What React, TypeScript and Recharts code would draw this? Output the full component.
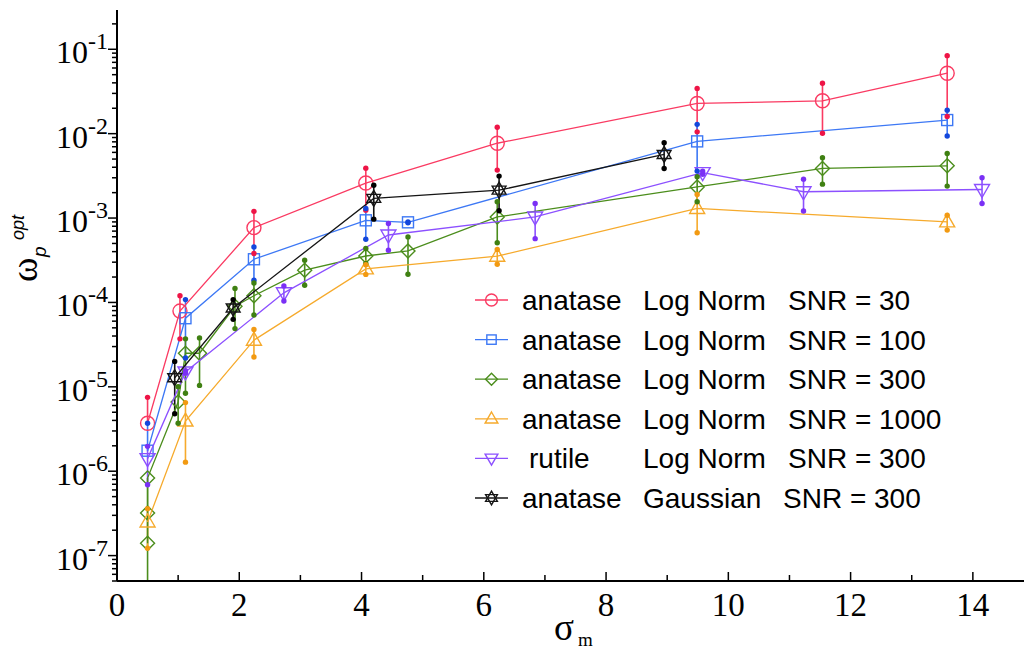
import React from "react";
import { ScatterChart, Scatter, XAxis, YAxis, ErrorBar } from "recharts";

// sigma_m positions, omega_p^opt values and error-bar ends for each series
const redX = [0.5, 1.03, 2.24, 4.07, 6.22, 9.49, 11.54, 13.58];
const redY = [3.7e-6, 7.9e-5, 7.7e-4, 2.6e-3, 7.7e-3, 2.28e-2, 2.45e-2, 5.2e-2];
const redLo = [3.7e-6, 3.7e-5, 3.8e-4, 1.24e-3, 3.7e-3, 1.05e-2, 1.01e-2, 1.6e-2];
const redHi = [7.5e-6, 1.2e-4, 1.2e-3, 3.9e-3, 1.19e-2, 3.44e-2, 3.95e-2, 8.4e-2];

const blueX = [0.5, 1.12, 2.24, 4.07, 4.76, 9.49, 13.58];
const blueY = [1.75e-6, 6.5e-5, 3.25e-4, 9.4e-4, 8.9e-4, 8.1e-3, 1.45e-2];
const blueLo = [1.75e-6, 2.2e-5, 1.83e-4, 5.6e-4, 8.8e-4, 3.6e-3, 9.4e-3];
const blueHi = [3.7e-6, 1.08e-4, 4.55e-4, 1.3e-3, 9.0e-4, 1.29e-2, 1.9e-2];

const greenX = [0.5, 0.5, 0.5, 1.0, 1.12, 1.35, 1.93, 2.24, 3.07, 4.07, 4.76, 6.22, 9.49, 11.54, 13.58];
const greenY = [1.4e-7, 3.2e-7, 8.3e-7, 6.6e-6, 2.5e-5, 2.5e-5, 9.0e-5, 1.2e-4, 2.41e-4, 3.55e-4, 4.08e-4, 1.03e-3, 2.34e-3, 3.87e-3, 4.16e-3];
const greenLo = [1.4e-7, 3.2e-7, 5e-8, 3.7e-6, 8.4e-6, 1.04e-5, 4.9e-5, 7.1e-5, 1.6e-4, 2.9e-4, 2.16e-4, 5.1e-4, 1.56e-3, 2.52e-3, 2.39e-3];
const greenHi = [1.4e-7, 3.2e-7, 8.3e-7, 1.0e-5, 3.7e-5, 3.8e-5, 1.46e-4, 1.7e-4, 3.16e-4, 4.36e-4, 5.98e-4, 1.56e-3, 3.08e-3, 5.18e-3, 5.83e-3];

const orangeX = [0.5, 1.12, 2.24, 4.07, 6.22, 9.49, 13.58];
const orangeY = [2.5e-7, 3.93e-6, 3.57e-5, 2.5e-4, 3.53e-4, 1.3e-3, 9.0e-4];
const orangeLo = [1.22e-7, 1.28e-6, 2.26e-5, 2.15e-4, 2.84e-4, 6.7e-4, 7.2e-4];
const orangeHi = [3.6e-7, 6.5e-6, 4.77e-5, 2.8e-4, 4.25e-4, 1.9e-3, 1.08e-3];

const purpleX = [0.5, 1.12, 2.73, 4.44, 6.84, 9.58, 11.23, 14.15];
const purpleY = [1.41e-6, 1.5e-5, 1.3e-4, 6.3e-4, 1.03e-3, 3.45e-3, 2.05e-3, 2.18e-3];
const purpleLo = [6.9e-7, 1.45e-5, 1.04e-4, 4.16e-4, 5.7e-4, 3.3e-3, 1.21e-3, 1.49e-3];
const purpleHi = [1.97e-6, 1.55e-5, 1.57e-4, 8.6e-4, 1.49e-3, 3.6e-3, 2.89e-3, 3.0e-3];

const blackX = [0.944, 1.9, 4.2, 6.25, 8.95];
const blackY = [1.28e-5, 8.6e-5, 1.71e-3, 2.14e-3, 5.67e-3];
const blackLo = [4.8e-6, 6.3e-5, 9.7e-4, 1.22e-3, 3.87e-3];
const blackHi = [2.0e-5, 1.08e-4, 2.45e-3, 3.14e-3, 7.8e-3];

const legendMaterial = ["anatase", "anatase", "anatase", "anatase", "rutile", "anatase"];
const legendModel = ["Log Norm", "Log Norm", "Log Norm", "Log Norm", "Log Norm", "Gaussian"];
const legendSnr = ["SNR = 30", "SNR = 100", "SNR = 300", "SNR = 1000", "SNR = 300", "SNR = 300"];

const xTicks = [0, 1, 2, 3, 4, 5, 6, 7, 8, 9, 10, 11, 12, 13, 14, 15];
const yDecades = [-8, -7, -6, -5, -4, -3, -2, -1];

const Y_MIN = 5e-8;
const Y_MAX = 0.292;

const yTicks: number[] = [];
yDecades.forEach((d) => {
  [1, 2, 3, 4, 5, 6, 7, 8, 9].forEach((k) => {
    const v = k * Math.pow(10, d);
    if (v >= Y_MIN && v <= Y_MAX) yTicks.push(v);
  });
});

function rows(xs: number[], ys: number[], lo: number[], hi: number[]) {
  return xs.map((x, i) => ({ x, y: ys[i], err: [ys[i] - lo[i], hi[i] - ys[i]] }));
}

function ends(xs: number[], ys: number[], lo: number[], hi: number[]) {
  const out: { x: number; y: number }[] = [];
  xs.forEach((x, i) => {
    if (lo[i] < ys[i] && lo[i] > Y_MIN * 1.01) out.push({ x, y: lo[i] });
    if (hi[i] > ys[i]) out.push({ x, y: hi[i] });
  });
  return out;
}

const series = [
  { key: "r", kind: "circle", color: "#fa3a62", dot: "#ee1446", x: redX, y: redY, lo: redLo, hi: redHi },
  { key: "b", kind: "square", color: "#3d78f5", dot: "#1347dc", x: blueX, y: blueY, lo: blueLo, hi: blueHi },
  { key: "g", kind: "diamond", color: "#4b8d1c", dot: "#3f8012", x: greenX, y: greenY, lo: greenLo, hi: greenHi },
  { key: "o", kind: "up", color: "#f6aa2c", dot: "#f29a12", x: orangeX, y: orangeY, lo: orangeLo, hi: orangeHi },
  { key: "p", kind: "down", color: "#8c50ff", dot: "#7a30f5", x: purpleX, y: purpleY, lo: purpleLo, hi: purpleHi },
  { key: "k", kind: "star", color: "#151515", dot: "#000000", x: blackX, y: blackY, lo: blackLo, hi: blackHi },
];

function Marker({ kind, cx, cy, color, s = 1 }: any) {
  const st = { fill: "none", stroke: color, strokeWidth: 1.4 };
  if (kind === "circle") return <circle cx={cx} cy={cy} r={7 * s} {...st} />;
  if (kind === "square")
    return <rect x={cx - 5.5 * s} y={cy - 5.5 * s} width={11 * s} height={11 * s} {...st} />;
  if (kind === "diamond")
    return (
      <polygon
        points={`${cx},${cy - 7 * s} ${cx + 7 * s},${cy} ${cx},${cy + 7 * s} ${cx - 7 * s},${cy}`}
        {...st}
      />
    );
  if (kind === "up")
    return (
      <polygon
        points={`${cx},${cy - 8 * s} ${cx + 7.5 * s},${cy + 5 * s} ${cx - 7.5 * s},${cy + 5 * s}`}
        {...st}
      />
    );
  if (kind === "down")
    return (
      <polygon
        points={`${cx},${cy + 8 * s} ${cx + 7.5 * s},${cy - 5 * s} ${cx - 7.5 * s},${cy - 5 * s}`}
        {...st}
      />
    );
  const r = 8 * s;
  const h = r * 0.866;
  return (
    <g {...st}>
      <polygon points={`${cx},${cy - r} ${cx + h},${cy + r / 2} ${cx - h},${cy + r / 2}`} />
      <polygon points={`${cx},${cy + r} ${cx + h},${cy - r / 2} ${cx - h},${cy - r / 2}`} />
    </g>
  );
}

function isMajor(v: number) {
  const lg = Math.log10(v);
  return Math.abs(lg - Math.round(lg)) < 1e-6;
}

const LeftTick = ({ x, y, payload }: any) => {
  const major = isMajor(payload.value);
  const exp = Math.round(Math.log10(payload.value));
  return (
    <g>
      <line x1={x} x2={x - (major ? 9 : 5)} y1={y} y2={y} stroke="#000" strokeWidth={1.5} />
      {major && (
        <text x={x - 9} y={y + 14} textAnchor="end" fontFamily="Liberation Serif" fontSize={32} fill="#000">
          10
          <tspan fontSize={24} dy={-14}>
            {String(exp)}
          </tspan>
        </text>
      )}
    </g>
  );
};

const RightTick = ({ x, y, payload }: any) => {
  const major = isMajor(payload.value);
  return <line x1={x} x2={x - (major ? 15 : 6)} y1={y} y2={y} stroke="#000" strokeWidth={1.5} />;
};

const BottomTick = ({ x, y, payload }: any) => {
  const even = payload.value % 2 === 0;
  return (
    <g>
      <line x1={x} x2={x} y1={y} y2={y - (even ? 9 : 6)} stroke="#000" strokeWidth={1.5} />
      {even && (
        <text x={x} y={y + 35} textAnchor="middle" fontFamily="Liberation Serif" fontSize={33} fill="#000">
          {payload.value}
        </text>
      )}
    </g>
  );
};

const TopTick = ({ x, y, payload }: any) => {
  const even = payload.value % 2 === 0;
  return <line x1={x} x2={x} y1={y} y2={y + (even ? 8 : 6)} stroke="#000" strokeWidth={1.5} />;
};

export default function App() {
  return (
    <div
      style={{
        position: "absolute",
        left: 0,
        top: 0,
        width: 1024,
        height: 654,
        overflow: "hidden",
        background: "#fff",
      }}
    >
      <ScatterChart width={1040} height={654} margin={{ top: 10, right: 6, bottom: 13, left: 0 }}>
        <XAxis
          type="number"
          dataKey="x"
          domain={[0, 15]}
          ticks={xTicks}
          interval={0}
          height={60}
          tickSize={0}
          tickMargin={0}
          tick={<BottomTick />}
          axisLine={{ stroke: "#000", strokeWidth: 2 }}
          allowDataOverflow
        />
        <XAxis
          xAxisId="top"
          orientation="top"
          type="number"
          domain={[0, 15]}
          ticks={xTicks}
          interval={0}
          height={0}
          tickSize={0}
          tickMargin={0}
          tick={<TopTick />}
          axisLine={{ stroke: "#000", strokeWidth: 2 }}
          allowDataOverflow
        />
        <YAxis
          type="number"
          dataKey="y"
          scale="log"
          domain={[Y_MIN, Y_MAX]}
          ticks={yTicks}
          interval={0}
          width={117}
          tickSize={0}
          tickMargin={0}
          tick={<LeftTick />}
          axisLine={{ stroke: "#000", strokeWidth: 2 }}
          allowDataOverflow
        />
        <YAxis
          yAxisId="right"
          orientation="right"
          type="number"
          scale="log"
          domain={[Y_MIN, Y_MAX]}
          ticks={yTicks}
          interval={0}
          width={0}
          tickSize={0}
          tickMargin={0}
          tick={<RightTick />}
          axisLine={{ stroke: "#000", strokeWidth: 2 }}
          allowDataOverflow
        />
        {series.map((s) => (
          <Scatter
            key={s.key}
            data={rows(s.x, s.y, s.lo, s.hi)}
            line={{ stroke: s.color, strokeWidth: 1.3 }}
            lineType="joint"
            isAnimationActive={false}
            shape={(p: any) => <Marker kind={s.kind} cx={p.cx} cy={p.cy} color={s.color} />}
          >
            <ErrorBar
              dataKey="err"
              direction="y"
              width={0}
              stroke={s.color}
              strokeWidth={1.6}
              isAnimationActive={false}
            />
          </Scatter>
        ))}
        {series.map((s) => (
          <Scatter
            key={s.key + "-ends"}
            data={ends(s.x, s.y, s.lo, s.hi)}
            isAnimationActive={false}
            shape={(p: any) => <circle cx={p.cx} cy={p.cy} r={2.7} fill={s.dot} />}
          />
        ))}
      </ScatterChart>

      <svg
        width={1024}
        height={654}
        style={{ position: "absolute", left: 0, top: 0, pointerEvents: "none" }}
      >
        {/* y-axis title */}
        <g transform="translate(37,282) rotate(-90)">
          <text x={0} y={0} fontFamily="Liberation Serif" fontSize={37} fill="#000">
            ω
          </text>
          <text x={25} y={9} fontFamily="Liberation Sans" fontStyle="italic" fontSize={19} fill="#000">
            p
          </text>
          <text x={42} y={-13} fontFamily="Liberation Sans" fontStyle="italic" fontSize={18} fill="#000">
            opt
          </text>
        </g>
        {/* x-axis title */}
        <text x={554} y={640} fontFamily="Liberation Serif" fontSize={37} fill="#000">
          σ
        </text>
        <text x={578} y={646} fontFamily="Liberation Serif" fontSize={19} fill="#000">
          m
        </text>
        {/* legend */}
        {series.map((s, i) => {
          const cy = 300 + i * 39.6;
          return (
            <g key={s.key}>
              <line x1={475} x2={508} y1={cy} y2={cy} stroke={s.color} strokeWidth={1.3} />
              <Marker kind={s.kind} cx={491.5} cy={cy} color={s.color} s={0.85} />
              <text
                x={legendMaterial[i] === "rutile" ? 529 : 522}
                y={cy + 10}
                fontFamily="Liberation Sans"
                fontSize={28}
                fill="#000"
              >
                {legendMaterial[i]}
              </text>
              <text x={643} y={cy + 10} fontFamily="Liberation Sans" fontSize={28} fill="#000">
                {legendModel[i]}
              </text>
              <text
                x={legendModel[i] === "Gaussian" ? 783 : 788}
                y={cy + 10}
                fontFamily="Liberation Sans"
                fontSize={28}
                fill="#000"
              >
                {legendSnr[i]}
              </text>
            </g>
          );
        })}
      </svg>
    </div>
  );
}
